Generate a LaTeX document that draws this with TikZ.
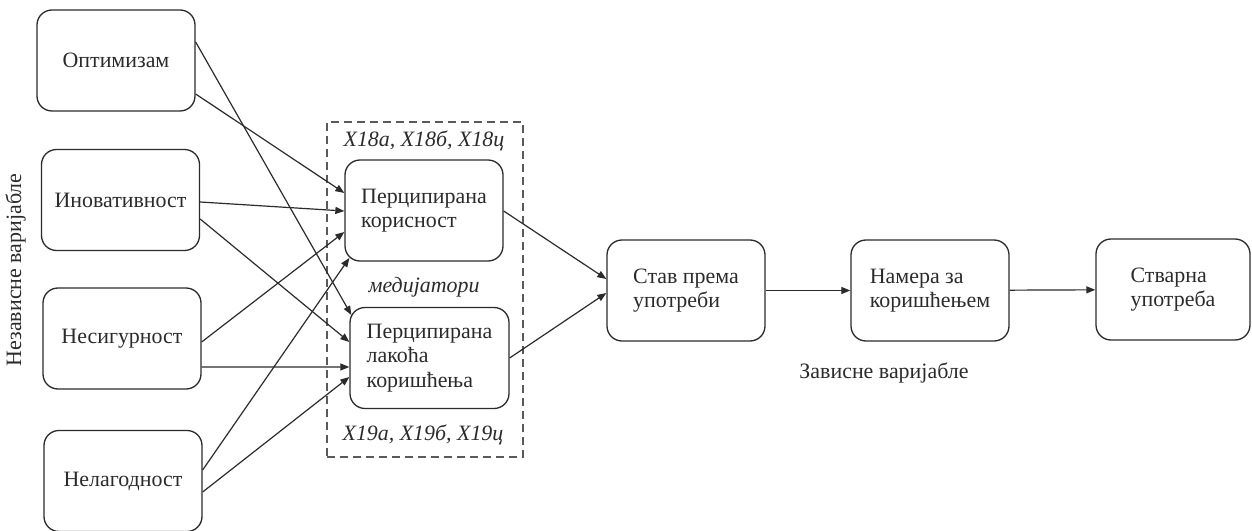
\documentclass[tikz,border=0pt]{standalone}
\usepackage{fontspec}
\setmainfont{Liberation Serif}
\usetikzlibrary{arrows.meta}
\definecolor{ink}{HTML}{2B2B2B}
\definecolor{frame}{HTML}{5A5A5A}
\begin{document}
\begin{tikzpicture}[x=1bp,y=-1bp,
  box/.style={draw=ink, line width=1.3bp, rounded corners=15bp, align=left,
    text=ink, inner sep=0pt, font=\fontsize{22}{24.5}\selectfont},
  wide/.style={minimum width=158bp, minimum height=101bp},
  arr/.style={draw=ink, line width=1.2bp, -{Triangle[length=9bp,width=7bp]}},
  note/.style={text=ink, font=\fontsize{22}{24}\selectfont, inner sep=0pt},
  tag/.style={text=ink, font=\fontsize{22}{24}\selectfont\itshape, inner sep=0pt},
  dashframe/.style={draw=frame, line width=1.2bp, dash pattern=on 8bp off 5bp}]
\useasboundingbox (0,0) rectangle (1252,531);

% mediator frame
\node[dashframe, minimum width=196bp, minimum height=335bp] (med) at (425,289.5) {};

% independent variables
\node[box, wide] (opt) at (116,60.5) {Оптимизам};
\node[box, wide] (inov) at (120.5,200) {Иновативност};
\node[box, wide] (nes) at (122,338.5) {Несигурност};
\node[box, wide] (nel) at (123,481) {Нелагодност};

% mediators
\node[box, wide] (pu) at (424,210.5) {Перципирана\\корисност};
\node[box, wide, minimum width=159bp] (peou) at (429.5,358) {Перципирана\\лакоћа\\коришћења};

% dependent variables
\node[box, wide] (stav) at (686,290.5) {Став према\\употреби};
\node[box, wide] (nam) at (930,290.5) {Намера за\\коришћењем};
\node[box, wide, minimum width=154bp] (stv) at (1173,289.5) {Стварна\\употреба};

% labels
\node[tag] (t18) at (424,141) {Х18а, Х18б, Х18ц};
\node[tag] (tmed) at (424,287) {медијатори};
\node[tag] (t19) at (423,435) {Х19а, Х19б, Х19ц};
\node[note, rotate=90] (nezav) at (15.5,270) {Независне варијабле};
\node[note] (zav) at (884,373) {Зависне варијабле};

% paths into the mediators
\draw[arr] ([yshift=-33.5bp]opt.east) -- ([yshift=17.5bp]pu.west);
\draw[arr] ([yshift=18.5bp]opt.east) -- ([xshift=2bp,yshift=43bp]peou.west);
\draw[arr] ([yshift=-2bp]inov.east) -- ([yshift=-0.5bp]pu.west);
\draw[arr] ([yshift=-19bp]inov.east) -- ([yshift=16bp]peou.west);
\draw[arr] ([yshift=-3.5bp]nes.east) -- ([yshift=-21.5bp]pu.west);
\draw[arr] ([yshift=-28.5bp]nes.east) -- ([yshift=-9bp]peou.west);
\draw[arr] ([yshift=11bp]nel.east) -- ([xshift=5bp,yshift=-47.5bp]pu.west);
\draw[arr] ([yshift=-11bp]nel.east) -- ([yshift=-19bp]peou.west);

% paths to the dependent variables
\draw[arr] ([yshift=-0.5bp]pu.east) -- ([yshift=11.5bp]stav.west);
\draw[arr] (peou.east) -- ([yshift=-2.5bp]stav.west);
\draw[arr] (stav) -- (nam);
\draw[arr] (nam) -- (stv);
\end{tikzpicture}
\end{document}
